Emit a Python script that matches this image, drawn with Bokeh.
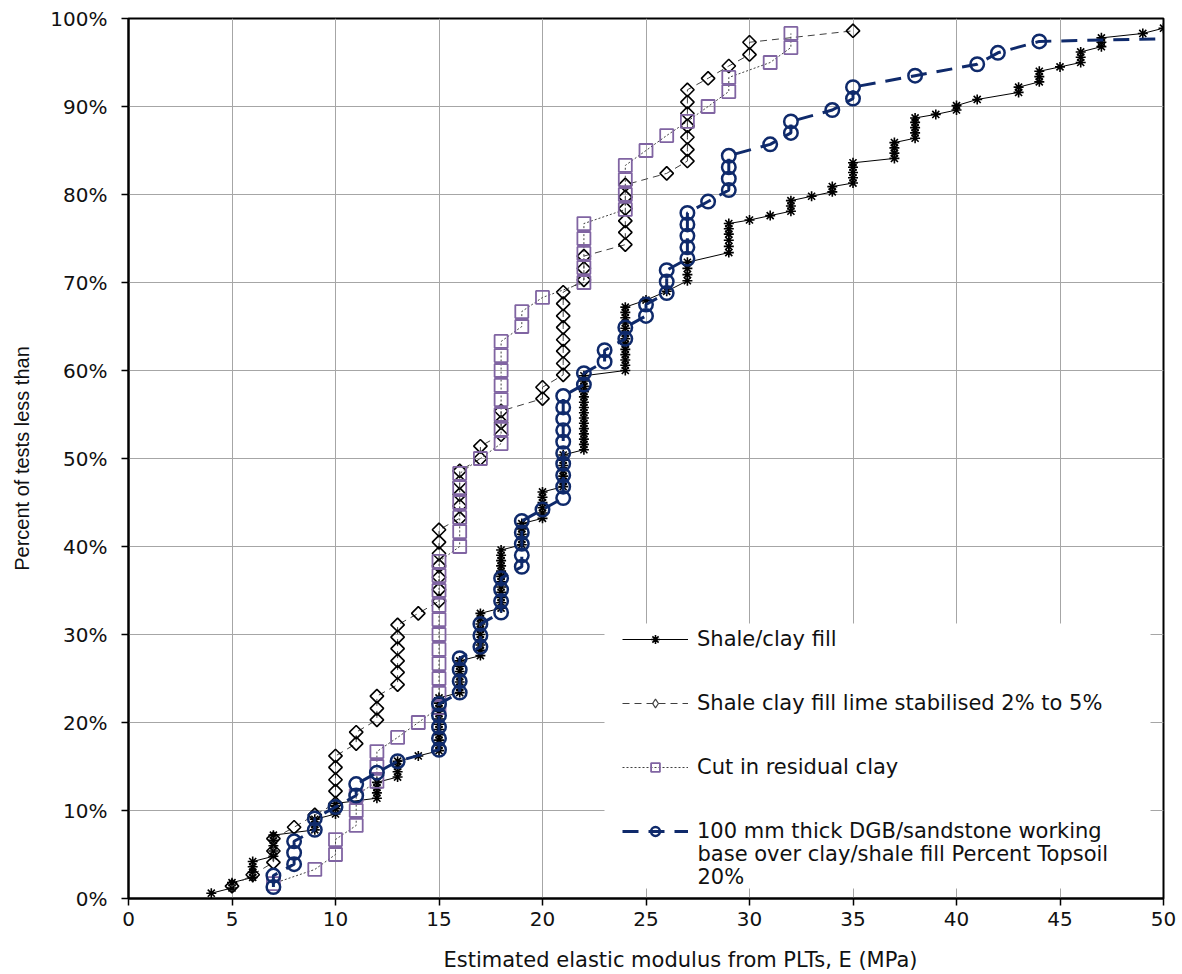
import math
from bokeh.plotting import figure
from bokeh.models import (Range1d, Legend, LegendItem, FixedTicker, Label, Title,
                          PrintfTickFormatter, ColumnDataSource, BoxAnnotation,
                          CDSView, IndexFilter)
from bokeh.embed import file_html
from bokeh.resources import INLINE

# ---------------- data ----------------
x_ticks = [0, 5, 10, 15, 20, 25, 30, 35, 40, 45, 50]
y_ticks = [0, 10, 20, 30, 40, 50, 60, 70, 80, 90, 100]

x_title = "Estimated elastic modulus from PLTs, E (MPa)"
y_title = "Percent of tests less than"

series_names = [
    "Shale/clay fill",
    "Shale clay fill lime stabilised 2% to 5%",
    "Cut in residual clay",
    "100 mm thick DGB/sandstone working",
]
series4_more = ["base over clay/shale fill Percent Topsoil", "20%"]

shale_x = [4,
           5, 5,
           6, 6, 6, 6,
           7, 7, 7, 7, 7,
           9, 9, 9,
           10, 10, 10,
           12, 12, 12, 12,
           13, 13, 13, 13,
           14,
           15, 15, 15, 15, 15, 15, 15, 15, 15, 15, 15,
           16, 16, 16, 16, 16, 16, 16,
           17, 17, 17, 17, 17, 17, 17, 17, 17,
           18, 18, 18, 18, 18, 18, 18, 18, 18, 18, 18, 18,
           19, 19, 19, 19, 19,
           20, 20, 20, 20, 20, 20,
           21, 21, 21, 21, 21, 21, 21,
           22, 22, 22, 22, 22, 22, 22, 22, 22, 22, 22, 22, 22, 22, 22,
           24, 24, 24, 24, 24, 24, 24, 24, 24, 24, 24, 24, 24,
           25, 26,
           27, 27, 27, 27,
           29, 29, 29, 29, 29, 29,
           30, 31,
           32, 32, 32,
           33,
           34, 34,
           35, 35, 35, 35, 35,
           37, 37, 37, 37,
           38, 38, 38, 38, 38,
           39,
           40, 40,
           41,
           43, 43,
           44, 44, 44,
           45,
           46, 46, 46,
           47, 47, 47,
           49, 50]
shale_y = [0.6, 1.2, 1.8, 2.4, 3.0, 3.6, 4.2, 4.8, 5.4, 6.0, 6.6, 7.2, 7.8, 8.4,
           9.0, 9.6, 10.2, 10.8, 11.4, 12.0, 12.6, 13.2, 13.8, 14.4, 15.0, 15.6,
           16.2,
           16.8, 17.4, 18.0, 18.6, 19.2, 19.8, 20.4, 21.0, 21.6, 22.2, 22.8,
           23.4, 24.0, 24.6, 25.2, 25.8, 26.4, 27.0,
           27.6, 28.2, 28.8, 29.4, 30.0, 30.6, 31.2, 31.8, 32.4,
           33.0, 33.6, 34.2, 34.8, 35.4, 36.0, 36.6, 37.2, 37.8, 38.4, 39.0, 39.6,
           40.2, 40.8, 41.4, 42.0, 42.6,
           43.2, 43.8, 44.4, 45.0, 45.6, 46.2,
           46.8, 47.4, 48.0, 48.6, 49.2, 49.8, 50.4,
           51.0, 51.6, 52.2, 52.8, 53.4, 54.0, 54.6, 55.2, 55.8, 56.4, 57.0, 57.6,
           58.2, 58.8, 59.4,
           60.0, 60.6, 61.2, 61.8, 62.4, 63.0, 63.6, 64.2, 64.8, 65.4, 66.0, 66.6,
           67.2,
           68.0, 69.0,
           70.2, 70.9, 71.6, 72.3,
           73.4, 74.1, 74.8, 75.5, 76.1, 76.7,
           77.1, 77.6,
           78.1, 78.7, 79.3,
           79.8,
           80.3, 80.9,
           81.3, 81.9, 82.5, 83.1, 83.6,
           84.1, 84.7, 85.3, 85.9,
           86.4, 87.0, 87.6, 88.2, 88.7,
           89.1,
           89.6, 90.1,
           90.8,
           91.6, 92.2,
           92.8, 93.4, 94.0,
           94.5,
           95.0, 95.6, 96.2,
           96.8, 97.3, 97.8,
           98.3, 98.9]

lime_x = [5, 6, 7, 7, 7, 8, 9, 10, 10, 10, 10, 10, 11, 11, 12, 12, 12,
          13, 13, 13, 13, 13, 13, 14, 15, 15, 15, 15, 15, 15, 15,
          16, 16, 16, 16, 16, 17, 17, 18, 18, 18, 20, 20,
          21, 21, 21, 21, 21, 21, 21, 21, 22, 22, 22,
          24, 24, 24, 24, 24, 24, 26, 27, 27, 27, 27, 27, 27, 27,
          28, 29, 30, 30, 35]
lime_y = [1.4, 2.7, 4.1, 5.4, 6.8, 8.1, 9.5, 10.8, 12.2, 13.5, 14.9, 16.2,
          17.6, 18.9, 20.3, 21.6, 23.0, 24.3, 25.7, 27.0, 28.4, 29.7, 31.1,
          32.4, 33.8, 35.1, 36.5, 37.8, 39.2, 40.5, 41.9, 43.2, 44.6, 45.9,
          47.3, 48.6, 50.0, 51.4, 52.7, 54.1, 55.4, 56.8, 58.1, 59.5, 60.8,
          62.2, 63.5, 64.9, 66.2, 67.6, 68.9, 70.3, 71.6, 73.0, 74.3, 75.7,
          77.0, 78.4, 79.7, 81.1, 82.4, 83.8, 85.1, 86.5, 87.8, 89.2, 90.5,
          91.9, 93.2, 94.6, 95.9, 97.3, 98.6]

cut_x = [7, 9, 10, 10, 11, 11, 11, 12, 12, 12, 13, 14,
         15, 15, 15, 15, 15, 15, 15, 15, 15, 15, 15,
         16, 16, 16, 16, 16, 16, 17, 18, 18, 18, 18, 18, 18, 18, 18,
         19, 19, 20, 22, 22, 22, 22, 22, 24, 24, 24, 24,
         25, 26, 27, 28, 29, 29, 31, 32, 32]
cut_y = [1.7, 3.3, 5.0, 6.7, 8.3, 10.0, 11.7, 13.3, 15.0, 16.7, 18.3, 20.0,
         21.7, 23.3, 25.0, 26.7, 28.3, 30.0, 31.7, 33.3, 35.0, 36.7, 38.3,
         40.0, 41.7, 43.3, 45.0, 46.7, 48.3, 50.0, 51.7, 53.3, 55.0, 56.7,
         58.3, 60.0, 61.7, 63.3, 65.0, 66.7, 68.3, 70.0, 71.7, 73.3, 75.0,
         76.7, 78.3, 80.0, 81.7, 83.3, 85.0, 86.7, 88.3, 90.0, 91.7, 93.3,
         95.0, 96.7, 98.3]

dgb_x = [7, 7, 8, 8, 8, 9, 9, 10, 11, 11, 12, 13,
         15, 15, 15, 15, 15, 16, 16, 16, 16, 17, 17, 17,
         18, 18, 18, 18, 19, 19, 19, 19, 19, 20,
         21, 21, 21, 21, 21, 21, 21, 21, 21, 21,
         22, 22, 23, 23, 24, 24, 25, 25, 26, 26, 26,
         27, 27, 27, 27, 27, 28, 29, 29, 29, 29,
         31, 32, 32, 34, 35, 35, 38, 41, 42, 44, 70]
dgb_y = [1.3, 2.6, 3.9, 5.2, 6.5, 7.8, 9.1, 10.4, 11.7, 13.0, 14.3, 15.6,
         16.9, 18.2, 19.5, 20.8, 22.1, 23.4, 24.7, 26.0, 27.3, 28.6, 29.9,
         31.2, 32.5, 33.8, 35.1, 36.4, 37.7, 39.0, 40.3, 41.6, 42.9, 44.2,
         45.5, 46.8, 48.1, 49.4, 50.6, 51.9, 53.2, 54.5, 55.8, 57.1, 58.4,
         59.7, 61.0, 62.3, 63.6, 64.9, 66.2, 67.5, 68.8, 70.1, 71.4, 72.7,
         74.0, 75.3, 76.6, 77.9, 79.2, 80.5, 81.8, 83.1, 84.4, 85.7, 87.0,
         88.3, 89.6, 90.9, 92.2, 93.5, 94.8, 96.1, 97.4, 98.7]

assert len(shale_x) == len(shale_y)
assert len(lime_x) == len(lime_y)
assert len(cut_x) == len(cut_y)
assert len(dgb_x) == len(dgb_y)

# ---------------- figure ----------------
FONT = "DejaVu Sans"
TXT = "#111111"

p = figure(width=1182, height=974, output_backend="svg", toolbar_location=None,
           x_range=Range1d(0, 50), y_range=Range1d(0, 100),
           min_border_left=128, min_border_right=19,
           min_border_top=18, min_border_bottom=76)
p.background_fill_color = "white"
p.border_fill_color = "white"
p.outline_line_color = "black"
p.outline_line_width = 2

p.xaxis.ticker = FixedTicker(ticks=x_ticks)
p.yaxis.ticker = FixedTicker(ticks=y_ticks)
p.yaxis.formatter = PrintfTickFormatter(format="%d%%")

for ax in (p.xaxis, p.yaxis):
    ax.axis_line_color = "black"
    ax.axis_line_width = 2
    ax.major_tick_line_color = "black"
    ax.major_tick_line_width = 1.5
    ax.major_tick_out = 7
    ax.major_tick_in = 0
    ax.minor_tick_line_color = None
    ax.major_label_text_font = FONT
    ax.major_label_text_font_size = "20px"
    ax.major_label_text_color = TXT
    ax.axis_label_text_font_style = "normal"
    ax.axis_label_text_color = TXT

p.xaxis.major_label_standoff = 6
p.yaxis.major_label_standoff = 14
p.yaxis.axis_label = y_title
p.yaxis.axis_label_text_font = "Liberation Sans"
p.yaxis.axis_label_text_font_size = "20px"
p.yaxis.axis_label_standoff = 14

# x-axis title, a little right of centre as in the reference;
# a tiny blank axis label only adds the gap between tick labels and title
p.xaxis.axis_label = " "
p.xaxis.axis_label_text_font_size = "1px"
p.xaxis.axis_label_standoff = 13
p.add_layout(Title(text=x_title, align="left", offset=315, standoff=0,
                   text_font=FONT, text_font_size="21px",
                   text_font_style="normal", text_color=TXT), "below")

p.grid.grid_line_color = "#a6a6a6"
p.grid.grid_line_width = 1

# ---------------- series ----------------
src1 = ColumnDataSource(dict(x=shale_x, y=shale_y))
src2 = ColumnDataSource(dict(x=lime_x, y=lime_y))
src3 = ColumnDataSource(dict(x=cut_x, y=cut_y))
src4 = ColumnDataSource(dict(x=dgb_x, y=dgb_y))

NAVY = "#0f2a6b"

l1 = p.line("x", "y", source=src1, line_color="black", line_width=1)
m1 = p.scatter("x", "y", source=src1, marker="asterisk", size=10,
               line_color="black", line_width=1.6)

l2 = p.line("x", "y", source=src2, line_color="#404040", line_width=1,
            line_dash="7 5")
m2 = p.scatter("x", "y", source=src2, marker="square", angle=math.pi / 4,
               size=9.5, fill_color=None, line_color="black", line_width=1.6)

l3 = p.line("x", "y", source=src3, line_color="#404040", line_width=1,
            line_dash="2 2")
m3 = p.scatter("x", "y", source=src3, marker="square", size=13,
               fill_color=None, line_color="#8064A2", line_width=1.8)

l4 = p.line("x", "y", source=src4, line_color=NAVY, line_width=3,
            line_dash="16 10")
m4 = p.scatter("x", "y", source=src4, marker="circle", size=13.5,
               fill_color=None, line_color=NAVY, line_width=2.5)

# legend key for the diamonds (legend keys ignore the angle of the rotated
# squares); it shows only the first lime point, drawn tiny under its own marker
k2 = p.scatter("x", "y", source=src2, view=CDSView(filter=IndexFilter(indices=[0])),
               marker="diamond", size=1, fill_color=None,
               line_color="#404040", line_width=1.2)

# white panel behind the legend (hides the grid there, as in the reference)
panel = BoxAnnotation(left=476, right=1022, bottom=10, top=275,
                      left_units="screen", right_units="screen",
                      bottom_units="screen", top_units="screen",
                      fill_color="white", fill_alpha=1.0, line_color=None)
p.add_layout(panel)

legend = Legend(items=[
    LegendItem(label=series_names[0], renderers=[l1, m1]),
    LegendItem(label=series_names[1], renderers=[l2, k2]),
    LegendItem(label=series_names[2], renderers=[l3, m3]),
    LegendItem(label=series_names[3], renderers=[l4, m4]),
], location=(494, 55))
legend.background_fill_color = "white"
legend.background_fill_alpha = 0.0
legend.border_line_color = None
legend.glyph_width = 66
legend.glyph_height = 22
legend.label_height = 22
legend.label_standoff = 9
legend.spacing = 40
legend.padding = 4
legend.margin = 0
legend.label_text_font = FONT
legend.label_text_font_size = "21px"
legend.label_text_color = TXT
p.add_layout(legend, "center")

for i, txt in enumerate(series4_more):
    p.add_layout(Label(x=569, y=45 - 23 * i, x_units="screen", y_units="screen",
                       text=txt, text_font=FONT, text_font_size="21px",
                       text_color=TXT, text_baseline="middle",
                       text_align="left"))

open("out.html", "w").write(file_html(p, INLINE))
